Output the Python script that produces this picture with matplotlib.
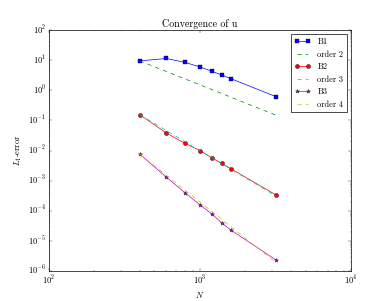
import matplotlib
matplotlib.use("Agg")
import matplotlib.pyplot as plt

plt.style.use("classic")
plt.rcParams["figure.facecolor"] = "white"
plt.rcParams["savefig.facecolor"] = "white"
plt.rcParams["font.family"] = "serif"
plt.rcParams["font.serif"] = ["cmr10", "DejaVu Serif"]
plt.rcParams["mathtext.fontset"] = "cm"
plt.rcParams["axes.formatter.use_mathtext"] = True

# grid sizes and L1 errors
N = [400, 600, 800, 1000, 1200, 1400, 1600, 3200]
B1 = [9.5, 11.4, 8.4, 6.0, 4.3, 3.2, 2.45, 0.61]
B2 = [0.155, 0.038, 0.0171, 0.0100, 0.0057, 0.0037, 0.0025, 0.00033]
B3 = [0.0076, 0.0013, 0.00039, 0.000158, 7.8e-5, 3.9e-5, 2.3e-5, 2.27e-6]

# reference slopes
order2 = [9.5, 4.22, 2.375, 1.52, 1.056, 0.776, 0.594, 0.148]
order3 = [0.155, 0.0459, 0.0194, 0.00992, 0.00574, 0.00362, 0.00242, 0.000303]
order4 = [0.0076, 0.0015, 0.000475, 0.000195, 9.4e-5, 5.06e-5, 2.97e-5, 1.86e-6]

fig = plt.figure(figsize=(7.8, 6.02), dpi=50)
ax = fig.add_subplot(111)

ax.loglog(N, B1, "bs-", label="B1")
ax.loglog(N, order2, "g--", label="order 2")
ax.loglog(N, B2, "ro-", label="B2")
ax.loglog(N, order3, "c--", label="order 3")
ax.loglog(N, B3, "m*-", label="B3")
ax.loglog(N, order4, "y--", label="order 4")

ax.set_xlim(1e2, 1e4)
ax.set_ylim(1e-6, 1e2)
ax.set_title("Convergence of u")
ax.set_xlabel(r"$N$")
ax.set_ylabel(r"$L_1$-error")
ax.legend(loc="upper right", fontsize=12)

fig.savefig("out.png", dpi=50)
